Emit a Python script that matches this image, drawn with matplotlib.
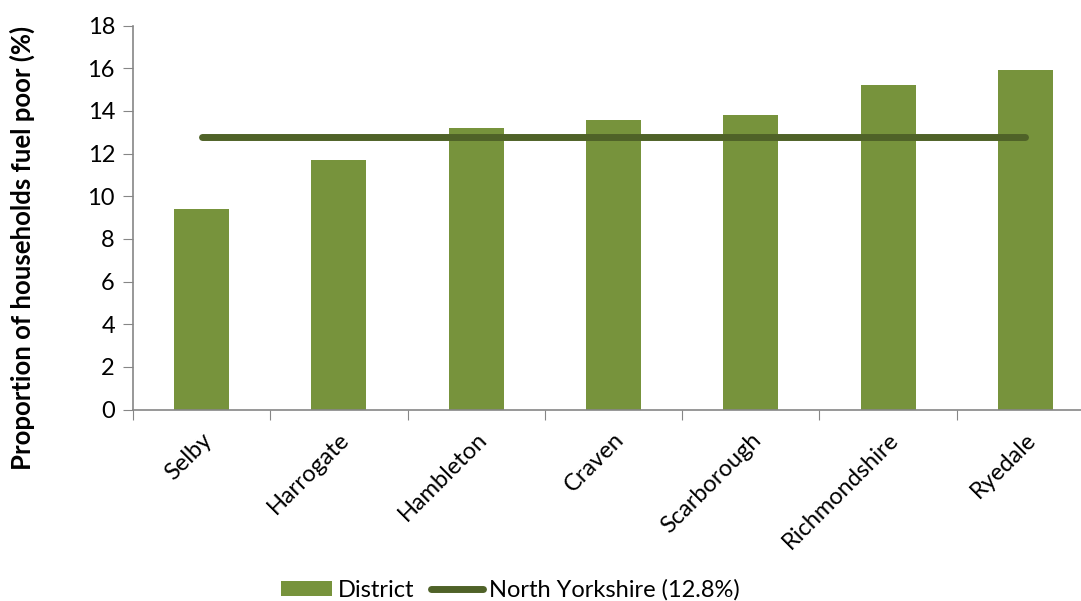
import matplotlib
matplotlib.use("Agg")
import matplotlib.pyplot as plt
from matplotlib.patches import Patch
from matplotlib.lines import Line2D
import numpy as np

districts = ["Selby", "Harrogate", "Hambleton", "Craven", "Scarborough", "Richmondshire", "Ryedale"]
fuel_poor_pct = [9.4, 11.7, 13.2, 13.6, 13.8, 15.2, 15.9]
county_avg = 12.8
y_ticks = [0, 2, 4, 6, 8, 10, 12, 14, 16, 18]

bar_color = "#77933C"
line_color = "#4F6228"
axis_color = "#868686"

plt.rcParams["font.family"] = ["Lato", "DejaVu Sans"]
FS = 17

W, H = 1081, 601
fig = plt.figure(figsize=(W / 100, H / 100), dpi=100)
ax = fig.add_axes([133 / W, (H - 409.5) / H, (1094 - 133) / W, (409.5 - 25.7) / H])

x = np.arange(len(districts))
ax.bar(x, fuel_poor_pct, width=0.4, color=bar_color, zorder=2)
ax.plot([x[0], x[-1]], [county_avg, county_avg], color=line_color, lw=5,
        solid_capstyle="round", zorder=3)

ax.set_xlim(-0.5, len(districts) - 0.5)
ax.set_ylim(0, 18)
ax.set_yticks(y_ticks)
ax.set_yticklabels([str(v) for v in y_ticks], fontsize=FS)

# category ticks sit on the boundaries between bars
ax.set_xticks(np.arange(len(districts) + 1) - 0.5)
ax.set_xticklabels([])
ax.set_xticks(x, minor=True)
ax.set_xticklabels(districts, minor=True, rotation=45, ha="right",
                   rotation_mode="anchor", fontsize=FS)
ax.tick_params(axis="x", which="minor", length=0, pad=14)
ax.tick_params(axis="x", which="major", length=7, color=axis_color, direction="out")
ax.tick_params(axis="y", length=7, color=axis_color, direction="out", pad=6)

for side in ("top", "right"):
    ax.spines[side].set_visible(False)
for side in ("left", "bottom"):
    ax.spines[side].set_color(axis_color)
    ax.spines[side].set_linewidth(1.2)

ax.set_ylabel("Proportion of households fuel poor (%)", fontsize=18.5,
              fontweight="bold")
ax.yaxis.set_label_coords(-0.1015, 0.42)

handles = [Patch(facecolor=bar_color, edgecolor="none"),
           Line2D([0], [0], color=line_color, lw=5, solid_capstyle="round")]
fig.legend(handles, ["District", "North Yorkshire (12.8%)"], loc="center",
           bbox_to_anchor=(510 / W, 1 - 590 / H), ncol=2, frameon=False,
           fontsize=FS, handlelength=2.2, handleheight=0.64,
           handletextpad=0.25, columnspacing=0.68, borderpad=0)

fig.savefig("out.png", dpi=100)
